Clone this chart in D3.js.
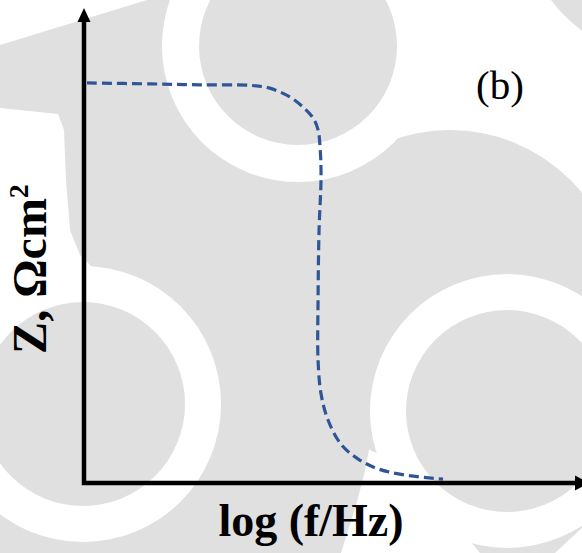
<!DOCTYPE html>
<html>
<head>
<meta charset="utf-8">
<script src="https://cdn.jsdelivr.net/npm/d3@7"></script>
<style>
	body { margin: 0; background: #fff; }
	svg { display: block; }
	text { font-family: "Liberation Serif", "Times New Roman", serif; fill: #000; }
</style>
</head>
<body>
<svg id="chart" width="582" height="553"></svg>
<script>
(function(d3) {
	'use strict';

	/** data (both axes in arbitrary units 0..10) */
	var logFreq   = [0.06, 1.33, 2.33, 3.33, 3.73, 4.14, 4.40, 4.60, 4.70, 4.74, 4.76, 4.72, 4.70, 4.70, 4.76, 4.90, 5.16, 5.50, 5.90, 6.43, 7.21];
	var impedance = [8.44, 8.42, 8.40, 8.39, 8.33, 8.14, 7.93, 7.70, 7.45, 7.09, 6.46, 5.34, 3.86, 2.59, 1.88, 1.33, 0.82, 0.51, 0.30, 0.17, 0.08];
	var xTitle = 'log (f/Hz)';
	var yTitle = 'Z, Ωcm';
	var yTitleSup = '2';
	var panelLabel = '(b)';

	var width = 582, height = 553;
	var svg = d3.select('#chart');

	/** watermark in the background */
	var grey = '#e0e0e0';
	var bg = svg.append('g').attr('class', 'watermark');
	bg.append('rect').attr('width', width).attr('height', height).attr('fill', grey);

	var whiteAreas = [
		[[0, 0], [147, 0], [0, 45]],
		[[0, 108], [58, 114], [64, 130], [66, 180], [70, 230], [80, 255], [100, 275], [0, 300]],
		[[340, 0], [582, 0], [582, 200], [340, 200]],
		[[371, 420], [369, 450], [364, 475], [356, 505], [341, 553], [480, 553]],
		[[582, 528], [582, 553], [555, 553]]
	];
	bg.selectAll('polygon').data(whiteAreas).enter().append('polygon')
		.attr('points', function(p) { return p.join(' '); })
		.attr('fill', '#fff');

	var greyLobes = [[450, 300, 170], [666, -85, 143]];
	var rings = [[298, 46, 136, 99], [83, 404, 138, 102], [507, 411, 137, 101]];

	bg.selectAll('circle.lobe').data(greyLobes).enter().append('circle')
		.attr('class', 'lobe')
		.attr('cx', function(c) { return c[0]; }).attr('cy', function(c) { return c[1]; })
		.attr('r', function(c) { return c[2]; }).attr('fill', grey);
	bg.selectAll('circle.ring').data(rings).enter().append('circle')
		.attr('class', 'ring')
		.attr('cx', function(c) { return c[0]; }).attr('cy', function(c) { return c[1]; })
		.attr('r', function(c) { return c[2]; }).attr('fill', '#fff');
	bg.selectAll('circle.disk').data(rings).enter().append('circle')
		.attr('class', 'disk')
		.attr('cx', function(c) { return c[0]; }).attr('cy', function(c) { return c[1]; })
		.attr('r', function(c) { return c[3]; }).attr('fill', grey);

	/** scales */
	var x = d3.scaleLinear().domain([0, 10]).range([84, 582]);
	var y = d3.scaleLinear().domain([0, 10]).range([483, 9]);

	/** axes with arrow heads */
	var x0 = x(0), y0 = y(0);
	var yTip = y(10) - 1, xTip = x(10) + 7;
	svg.append('path')
		.attr('d', 'M' + x0 + ',' + (yTip + 10) + 'V' + y0 + 'H' + (xTip - 10))
		.attr('fill', 'none').attr('stroke', '#000').attr('stroke-width', 4.5)
		.attr('stroke-linejoin', 'miter');
	svg.append('polygon')
		.attr('points', [[x0, yTip], [x0 - 6.5, yTip + 14], [x0 + 6.5, yTip + 14]].join(' '))
		.attr('fill', '#000');
	svg.append('polygon')
		.attr('points', [[xTip, y0], [xTip - 14, y0 - 7.5], [xTip - 14, y0 + 7.5]].join(' '))
		.attr('fill', '#000');

	/** the curve */
	var line = d3.line()
		.x(function(d) { return x(d[0]); })
		.y(function(d) { return y(d[1]); })
		.curve(d3.curveCatmullRom.alpha(0.5));
	svg.append('path')
		.datum(d3.zip(logFreq, impedance))
		.attr('d', line)
		.attr('fill', 'none')
		.attr('stroke', '#2f5597')
		.attr('stroke-width', 3.2)
		.attr('stroke-dasharray', '10,5');

	/** labels */
	svg.append('text')
		.attr('x', 311).attr('y', 536)
		.attr('text-anchor', 'middle')
		.attr('font-size', 46).attr('font-weight', 'bold')
		.text(xTitle);

	var yt = svg.append('text')
		.attr('transform', 'translate(46,269) rotate(-90)')
		.attr('text-anchor', 'middle')
		.attr('font-size', 48).attr('font-weight', 'bold');
	yt.append('tspan').text(yTitle);
	yt.append('tspan').attr('dy', -18).attr('font-size', 28).text(yTitleSup);

	svg.append('text')
		.attr('x', 476).attr('y', 99)
		.attr('font-size', 41)
		.text(panelLabel);
})(d3);
</script>
</body>
</html>
